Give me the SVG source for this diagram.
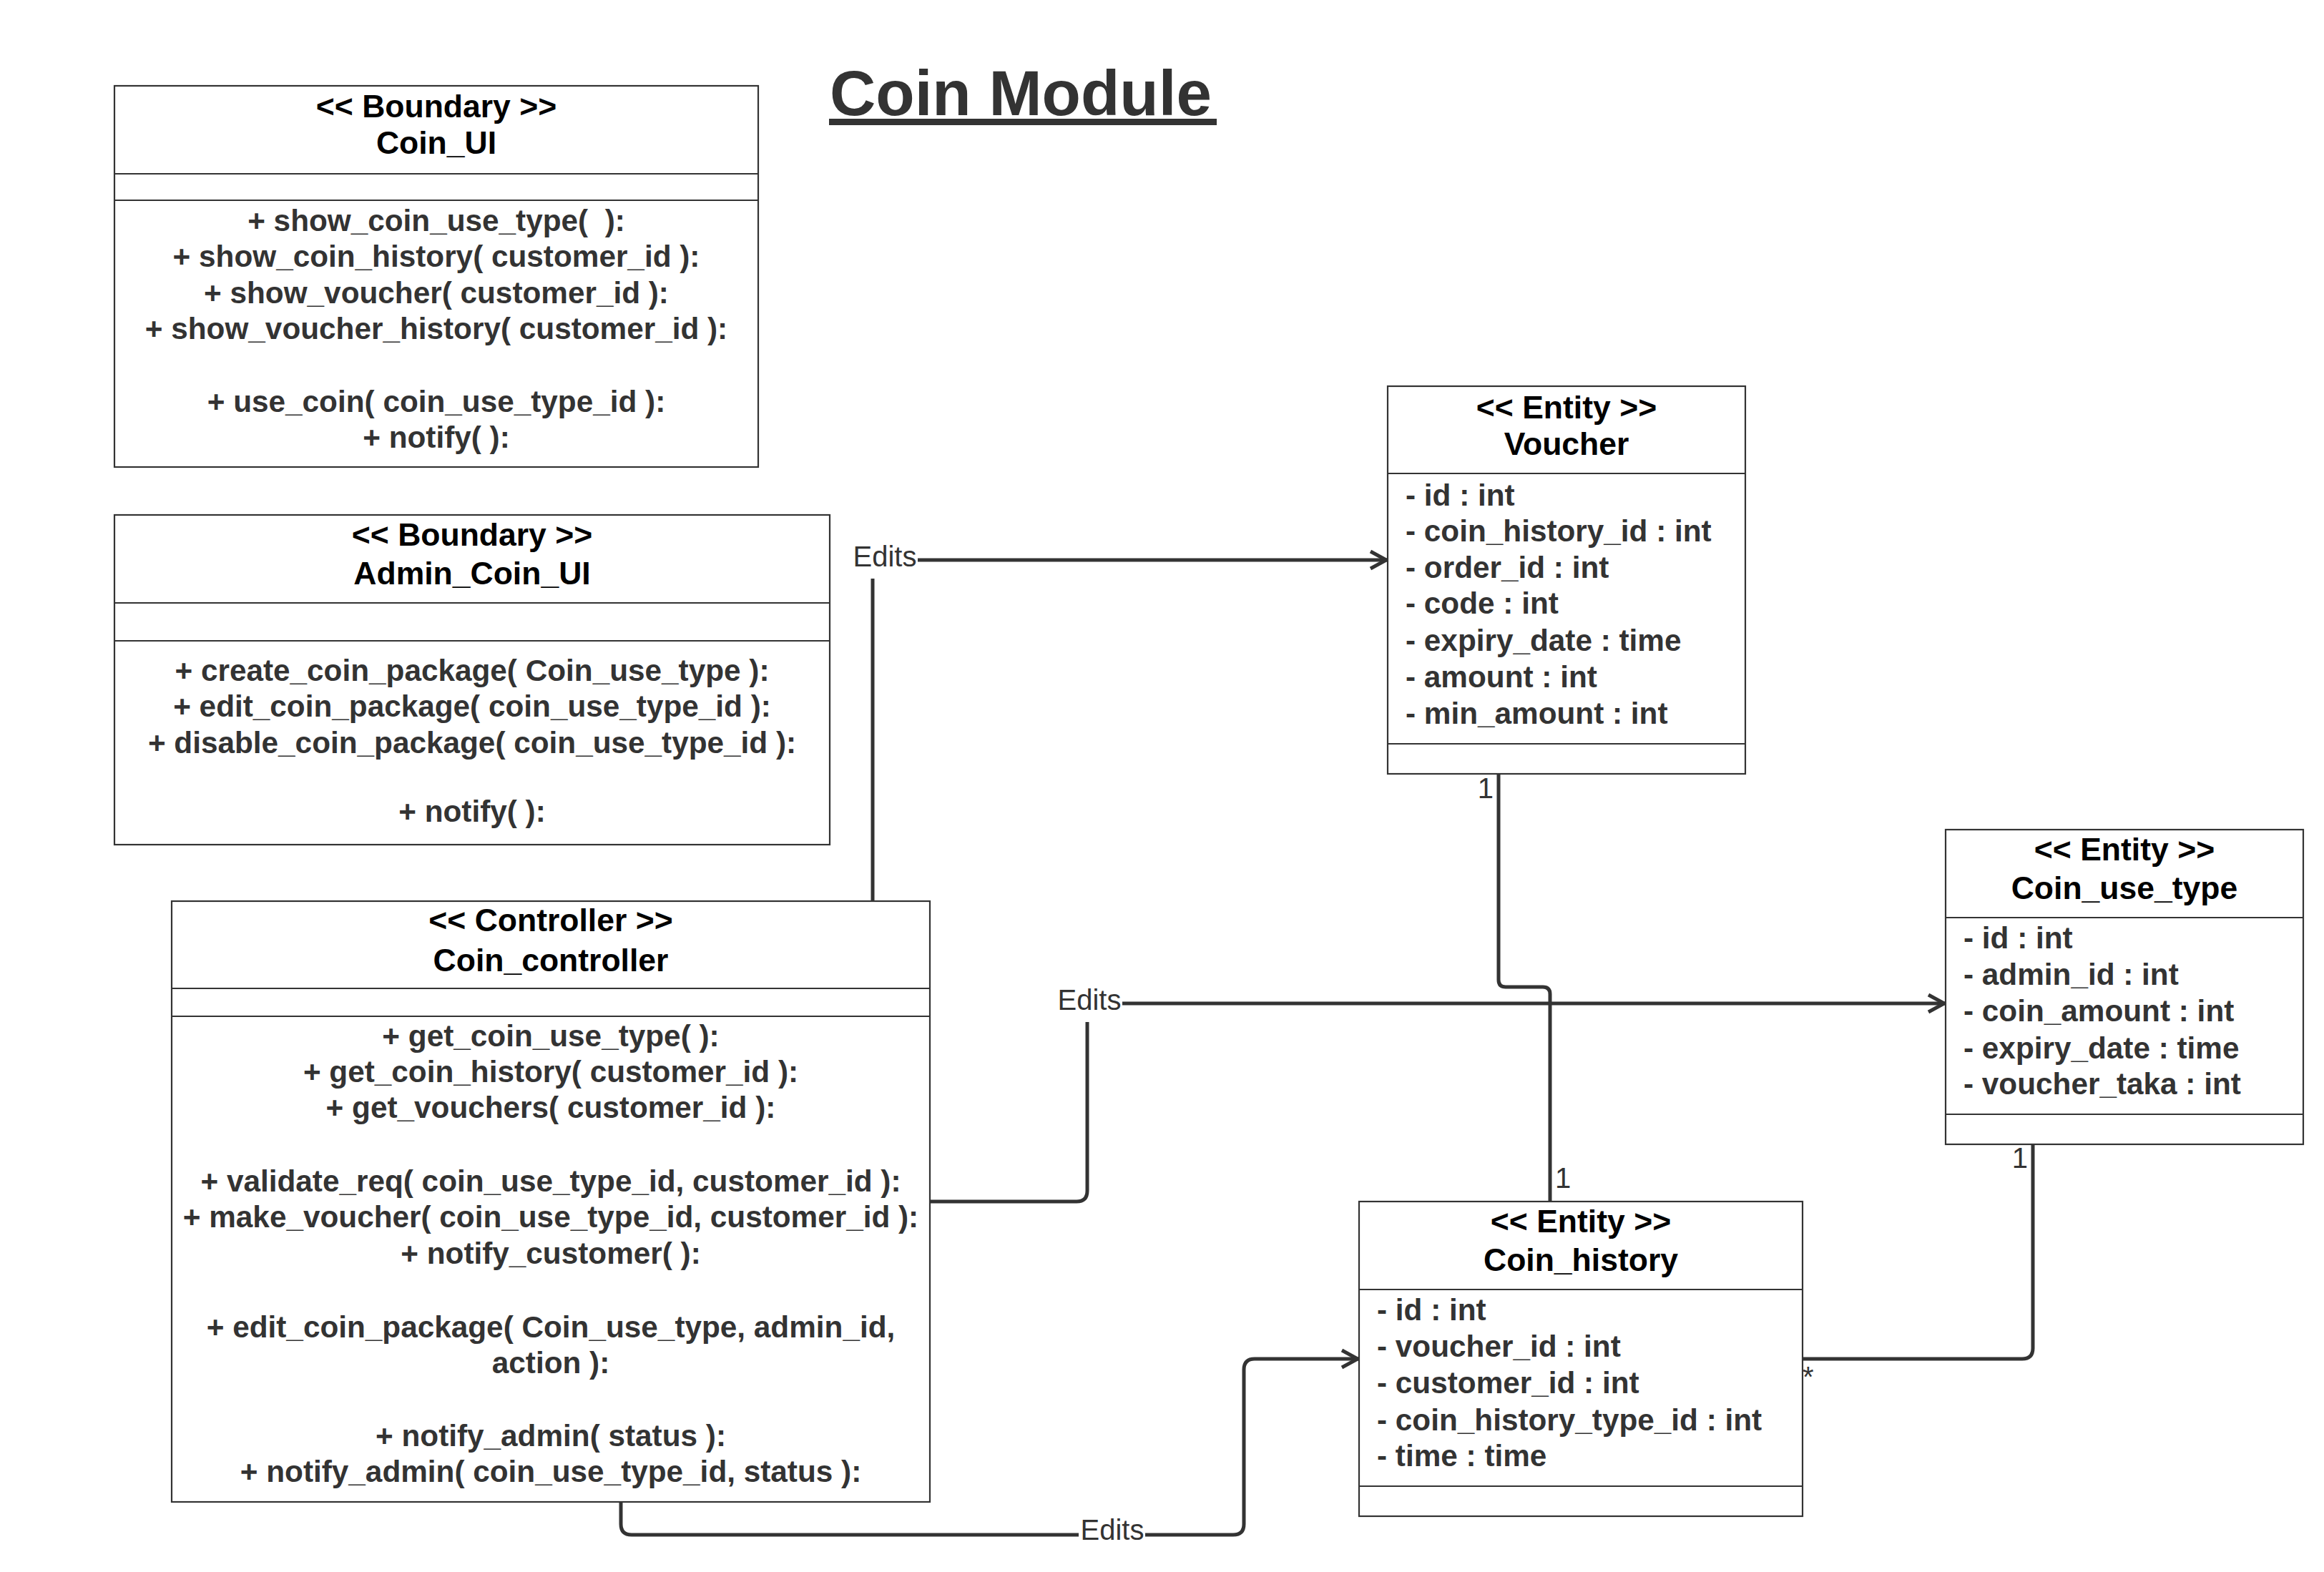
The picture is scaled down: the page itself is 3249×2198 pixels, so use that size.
<svg xmlns="http://www.w3.org/2000/svg" width="3249" height="2198" viewBox="0 0 3249 2198">
<style>
.box{fill:#fff;stroke:#333;stroke-width:2.2}
.sep{stroke:#333;stroke-width:2.2}
.hdr{font-family:"Liberation Sans",Arial,sans-serif;font-weight:bold;font-size:44.5px;fill:#000;text-anchor:middle}
.mth{font-family:"Liberation Sans",Arial,sans-serif;font-weight:bold;font-size:42.3px;fill:#333;text-anchor:middle}
.att{font-family:"Liberation Sans",Arial,sans-serif;font-weight:bold;font-size:42.3px;fill:#333}
.conn{fill:none;stroke:#333;stroke-width:5}
.lbl{font-family:"Liberation Sans",Arial,sans-serif;font-size:40px;fill:#333}
.lblbg{fill:#fff}
.title{font-family:"Liberation Sans",Arial,sans-serif;font-weight:bold;font-size:89px;fill:#333}
</style>
<defs>
<marker id="arrow" markerUnits="userSpaceOnUse" viewBox="0 0 40 40" markerWidth="40" markerHeight="40" refX="32" refY="20" orient="auto">
<path d="M8,8 L30,20 L8,32" fill="none" stroke="#333" stroke-width="5"/>
</marker>
</defs>
<rect width="3249" height="2198" fill="#fff"/>

<g id="title">
<text class="title" x="1160" y="161">Coin Module</text>
<rect x="1159" y="166" width="542" height="9" fill="#333"/>
</g>

<g id="connectors">
<path class="conn" d="M1220,1260 V783 H1940" marker-end="url(#arrow)"/>
<path class="conn" d="M1300,1680 H1505 Q1520,1680 1520,1665 V1403 H2720" marker-end="url(#arrow)"/>
<path class="conn" d="M868,2100 V2131 Q868,2146 883,2146 H1724 Q1739,2146 1739,2131 V1915 Q1739,1900 1754,1900 H1900" marker-end="url(#arrow)"/>
<path class="conn" d="M2095,1082 V1370 Q2095,1380 2105,1380 H2157 Q2167,1380 2167,1390 V1680"/>
<path class="conn" d="M2842,1600 V1885 Q2842,1900 2827,1900 H2520"/>
<rect class="lblbg" x="1190" y="757" width="93" height="52"/>
<text class="lbl" x="1237" y="792" text-anchor="middle">Edits</text>
<rect class="lblbg" x="1476" y="1377" width="93" height="52"/>
<text class="lbl" x="1523" y="1412" text-anchor="middle">Edits</text>
<rect class="lblbg" x="1508" y="2120" width="93" height="52"/>
<text class="lbl" x="1555" y="2153" text-anchor="middle">Edits</text>
<text class="lbl" x="2088" y="1116" text-anchor="end">1</text>
<text class="lbl" x="2174" y="1661">1</text>
<text class="lbl" x="2835" y="1633" text-anchor="end">1</text>
<text class="lbl" x="2520" y="1939">*</text>
</g>

<g id="coin_ui">
<rect class="box" x="160" y="120" width="900" height="533"/>
<line class="sep" x1="160" y1="243" x2="1060" y2="243"/>
<line class="sep" x1="160" y1="280" x2="1060" y2="280"/>
<text class="hdr" x="610" y="164">&lt;&lt; Boundary &gt;&gt;</text>
<text class="hdr" x="610" y="215">Coin_UI</text>
<text class="mth" x="610" y="323" xml:space="preserve">+ show_coin_use_type(  ):</text>
<text class="mth" x="610" y="373">+ show_coin_history( customer_id ):</text>
<text class="mth" x="610" y="424">+ show_voucher( customer_id ):</text>
<text class="mth" x="610" y="474">+ show_voucher_history( customer_id ):</text>
<text class="mth" x="610" y="576">+ use_coin( coin_use_type_id ):</text>
<text class="mth" x="610" y="626">+ notify( ):</text>
</g>

<g id="admin_coin_ui">
<rect class="box" x="160" y="720" width="1000" height="461"/>
<line class="sep" x1="160" y1="843" x2="1160" y2="843"/>
<line class="sep" x1="160" y1="896" x2="1160" y2="896"/>
<text class="hdr" x="660" y="763">&lt;&lt; Boundary &gt;&gt;</text>
<text class="hdr" x="660" y="817">Admin_Coin_UI</text>
<text class="mth" x="660" y="952">+ create_coin_package( Coin_use_type ):</text>
<text class="mth" x="660" y="1002">+ edit_coin_package( coin_use_type_id ):</text>
<text class="mth" x="660" y="1053">+ disable_coin_package( coin_use_type_id ):</text>
<text class="mth" x="660" y="1149">+ notify( ):</text>
</g>

<g id="coin_controller">
<rect class="box" x="240" y="1260" width="1060" height="840"/>
<line class="sep" x1="240" y1="1382" x2="1300" y2="1382"/>
<line class="sep" x1="240" y1="1421" x2="1300" y2="1421"/>
<text class="hdr" x="770" y="1302">&lt;&lt; Controller &gt;&gt;</text>
<text class="hdr" x="770" y="1358">Coin_controller</text>
<text class="mth" x="770" y="1463">+ get_coin_use_type( ):</text>
<text class="mth" x="770" y="1513">+ get_coin_history( customer_id ):</text>
<text class="mth" x="770" y="1563">+ get_vouchers( customer_id ):</text>
<text class="mth" x="770" y="1666">+ validate_req( coin_use_type_id, customer_id ):</text>
<text class="mth" x="770" y="1716">+ make_voucher( coin_use_type_id, customer_id ):</text>
<text class="mth" x="770" y="1767">+ notify_customer( ):</text>
<text class="mth" x="770" y="1870">+ edit_coin_package( Coin_use_type, admin_id,</text>
<text class="mth" x="770" y="1920">action ):</text>
<text class="mth" x="770" y="2022">+ notify_admin( status ):</text>
<text class="mth" x="770" y="2072">+ notify_admin( coin_use_type_id, status ):</text>
</g>

<g id="voucher">
<rect class="box" x="1940" y="540" width="500" height="542"/>
<line class="sep" x1="1940" y1="662" x2="2440" y2="662"/>
<line class="sep" x1="1940" y1="1040" x2="2440" y2="1040"/>
<text class="hdr" x="2190" y="585">&lt;&lt; Entity &gt;&gt;</text>
<text class="hdr" x="2190" y="636">Voucher</text>
<text class="att" x="1965" y="707">- id : int</text>
<text class="att" x="1965" y="757">- coin_history_id : int</text>
<text class="att" x="1965" y="808">- order_id : int</text>
<text class="att" x="1965" y="858">- code : int</text>
<text class="att" x="1965" y="910">- expiry_date : time</text>
<text class="att" x="1965" y="961">- amount : int</text>
<text class="att" x="1965" y="1012">- min_amount : int</text>
</g>

<g id="coin_use_type">
<rect class="box" x="2720" y="1160" width="500" height="440"/>
<line class="sep" x1="2720" y1="1283" x2="3220" y2="1283"/>
<line class="sep" x1="2720" y1="1558" x2="3220" y2="1558"/>
<text class="hdr" x="2970" y="1203">&lt;&lt; Entity &gt;&gt;</text>
<text class="hdr" x="2970" y="1257">Coin_use_type</text>
<text class="att" x="2745" y="1326">- id : int</text>
<text class="att" x="2745" y="1377">- admin_id : int</text>
<text class="att" x="2745" y="1428">- coin_amount : int</text>
<text class="att" x="2745" y="1480">- expiry_date : time</text>
<text class="att" x="2745" y="1530">- voucher_taka : int</text>
</g>

<g id="coin_history">
<rect class="box" x="1900" y="1680" width="620" height="440"/>
<line class="sep" x1="1900" y1="1803" x2="2520" y2="1803"/>
<line class="sep" x1="1900" y1="2078" x2="2520" y2="2078"/>
<text class="hdr" x="2210" y="1723">&lt;&lt; Entity &gt;&gt;</text>
<text class="hdr" x="2210" y="1777">Coin_history</text>
<text class="att" x="1925" y="1846">- id : int</text>
<text class="att" x="1925" y="1897">- voucher_id : int</text>
<text class="att" x="1925" y="1948">- customer_id : int</text>
<text class="att" x="1925" y="2000">- coin_history_type_id : int</text>
<text class="att" x="1925" y="2050">- time : time</text>
</g>
</svg>
